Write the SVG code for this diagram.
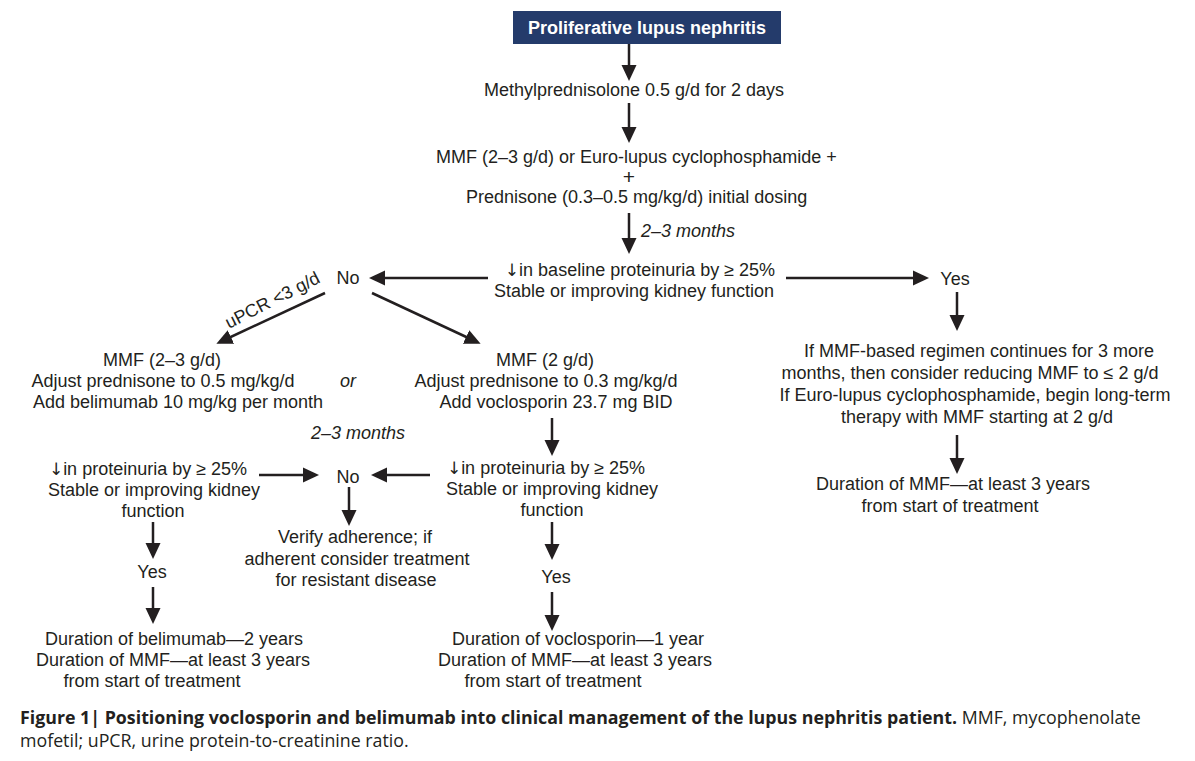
<svg xmlns="http://www.w3.org/2000/svg" width="1195" height="761" viewBox="0 0 1195 761">
<defs>
<marker id="ah" markerUnits="userSpaceOnUse" markerWidth="17" markerHeight="17" refX="12" refY="8.5" orient="auto">
<path d="M0,1 L16,8.5 L0,16 z" fill="#231f20"/>
</marker>
<style>
.t{font-family:"Liberation Sans",Arial,Helvetica,sans-serif;font-size:18px;fill:#231f20;text-anchor:middle}
.i{font-style:italic}
.s{text-anchor:start}
.ar{font-family:"DejaVu Sans",sans-serif;font-size:17px}
.c{stroke:#231f20;stroke-width:2.5;fill:none;marker-end:url(#ah)}
.cap{font-family:"Open Sans","Noto Sans",sans-serif;font-size:17.8px;fill:#231f20}
</style>
</defs>
<rect width="1195" height="761" fill="#ffffff"/>
<g id="connectors">
<line class="c" x1="629" y1="44" x2="629" y2="77"/>
<line class="c" x1="629" y1="103" x2="629" y2="139"/>
<line class="c" x1="629" y1="213" x2="629" y2="250"/>
<line class="c" x1="488" y1="278" x2="373" y2="278"/>
<line class="c" x1="786" y1="278" x2="925" y2="278"/>
<line class="c" x1="325" y1="293" x2="220" y2="342"/>
<line class="c" x1="372" y1="293" x2="477" y2="342"/>
<line class="c" x1="957" y1="292" x2="957" y2="327"/>
<line class="c" x1="957" y1="435" x2="957" y2="470"/>
<line class="c" x1="552" y1="418" x2="552" y2="452"/>
<line class="c" x1="259" y1="475" x2="315" y2="475"/>
<line class="c" x1="430" y1="475" x2="375" y2="475"/>
<line class="c" x1="349" y1="487" x2="349" y2="522"/>
<line class="c" x1="153" y1="522" x2="153" y2="555"/>
<line class="c" x1="153" y1="587" x2="153" y2="620"/>
<line class="c" x1="552" y1="522" x2="552" y2="556"/>
<line class="c" x1="552" y1="592" x2="552" y2="627"/>
</g>
<g id="n-start">
<rect x="513" y="11" width="268" height="33" fill="#243b6b"/>
<text class="t" x="647" y="34" style="font-weight:bold;fill:#ffffff">Proliferative lupus nephritis</text>
</g>
<g id="n-methyl">
<text class="t" x="634" y="96">Methylprednisolone 0.5 g/d for 2 days</text>
</g>
<g id="n-induction">
<text class="t s" x="436" y="163">MMF (2–3 g/d) or Euro-lupus cyclophosphamide +</text>
<text class="t" x="629" y="184" style="font-size:21px">+</text>
<text class="t s" x="466" y="203">Prednisone (0.3–0.5 mg/kg/d) initial dosing</text>
</g>
<g id="l-months1">
<text class="t s i" x="641" y="237">2–3 months</text>
</g>
<g id="n-response">
<text class="t" x="640" y="276"><tspan class="ar">↓</tspan>in baseline proteinuria by ≥ 25%</text>
<text class="t" x="634" y="297">Stable or improving kidney function</text>
</g>
<g id="n-no1">
<text class="t" x="348" y="284">No</text>
</g>
<g id="n-yes1">
<text class="t" x="955" y="285">Yes</text>
</g>
<g id="l-upcr">
<text class="t s" x="229" y="329" transform="rotate(-27 229 329)">uPCR &lt;3 g/d</text>
</g>
<g id="n-belimumab">
<text class="t" x="162" y="366">MMF (2–3 g/d)</text>
<text class="t" x="163" y="387">Adjust prednisone to 0.5 mg/kg/d</text>
<text class="t" x="178" y="408">Add belimumab 10 mg/kg per month</text>
</g>
<g id="l-or">
<text class="t i" x="348" y="387">or</text>
</g>
<g id="n-voclosporin">
<text class="t" x="545" y="366">MMF (2 g/d)</text>
<text class="t" x="546" y="387">Adjust prednisone to 0.3 mg/kg/d</text>
<text class="t" x="556" y="408">Add voclosporin 23.7 mg BID</text>
</g>
<g id="l-months2">
<text class="t i" x="358" y="439">2–3 months</text>
</g>
<g id="n-right-maint">
<text class="t" x="979" y="357">If MMF-based regimen continues for 3 more</text>
<text class="t" x="970" y="379">months, then consider reducing MMF to ≤ 2 g/d</text>
<text class="t" x="975" y="401">If Euro-lupus cyclophosphamide, begin long-term</text>
<text class="t" x="977" y="423">therapy with MMF starting at 2 g/d</text>
</g>
<g id="n-right-duration">
<text class="t" x="953" y="490">Duration of MMF—at least 3 years</text>
<text class="t" x="950" y="512">from start of treatment</text>
</g>
<g id="n-left-response">
<text class="t" x="148" y="475"><tspan class="ar">↓</tspan>in proteinuria by ≥ 25%</text>
<text class="t" x="154" y="496">Stable or improving kidney</text>
<text class="t" x="153" y="517">function</text>
</g>
<g id="n-mid-response">
<text class="t" x="546" y="474"><tspan class="ar">↓</tspan>in proteinuria by ≥ 25%</text>
<text class="t" x="552" y="495">Stable or improving kidney</text>
<text class="t" x="552" y="516">function</text>
</g>
<g id="n-no2">
<text class="t" x="348" y="483">No</text>
</g>
<g id="n-verify">
<text class="t" x="355" y="543">Verify adherence; if</text>
<text class="t" x="357" y="565">adherent consider treatment</text>
<text class="t" x="356" y="586">for resistant disease</text>
</g>
<g id="n-yes-left">
<text class="t" x="152" y="578">Yes</text>
</g>
<g id="n-yes-mid">
<text class="t" x="556" y="583">Yes</text>
</g>
<g id="n-left-duration">
<text class="t" x="174" y="645">Duration of belimumab—2 years</text>
<text class="t" x="173" y="666">Duration of MMF—at least 3 years</text>
<text class="t" x="152" y="687">from start of treatment</text>
</g>
<g id="n-mid-duration">
<text class="t" x="578" y="645">Duration of voclosporin—1 year</text>
<text class="t" x="575" y="666">Duration of MMF—at least 3 years</text>
<text class="t" x="553" y="687">from start of treatment</text>
</g>
<g id="caption">
<text class="cap" x="20" y="724"><tspan font-weight="bold">Figure 1| Positioning voclosporin and belimumab into clinical management of the lupus nephritis patient.</tspan> MMF, mycophenolate</text>
<text class="cap" x="20" y="747">mofetil; uPCR, urine protein-to-creatinine ratio.</text>
</g>
</svg>
